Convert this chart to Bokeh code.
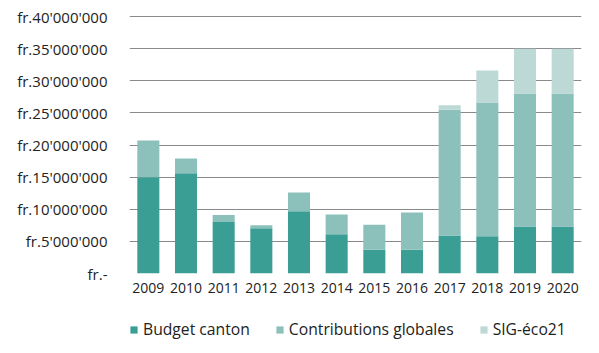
from bokeh.plotting import figure
from bokeh.layouts import column
from bokeh.models import ColumnDataSource, Legend, LegendItem, FixedTicker, Range1d
from bokeh.embed import file_html
from bokeh.resources import INLINE

years = ["2009", "2010", "2011", "2012", "2013", "2014", "2015", "2016", "2017", "2018", "2019", "2020"]
budget_canton = [15.0e6, 15.6e6, 8.0e6, 7.05e6, 9.7e6, 6.1e6, 3.7e6, 3.7e6, 5.9e6, 5.8e6, 7.3e6, 7.3e6]
contributions_globales = [5.7e6, 2.3e6, 1.1e6, 0.45e6, 2.9e6, 3.1e6, 3.9e6, 5.8e6, 19.6e6, 20.8e6, 20.7e6, 20.7e6]
sig_eco21 = [0, 0, 0, 0, 0, 0, 0, 0, 0.7e6, 5.0e6, 7.0e6, 7.0e6]

series = ["Budget canton", "Contributions globales", "SIG-éco21"]
colors = ["#3a9e95", "#8bc0bb", "#bdd9d5"]

y_ticks = [0, 5000000, 10000000, 15000000, 20000000, 25000000, 30000000, 35000000, 40000000]
y_tick_labels = ["fr.-", "fr.5'000'000", "fr.10'000'000", "fr.15'000'000", "fr.20'000'000",
                 "fr.25'000'000", "fr.30'000'000", "fr.35'000'000", "fr.40'000'000"]

FONT = "Open Sans"

source = ColumnDataSource(data={
    "year": years,
    "Budget canton": budget_canton,
    "Contributions globales": contributions_globales,
    "SIG-éco21": sig_eco21,
})

p = figure(x_range=years, y_range=Range1d(0, 40160000), width=599, height=305,
           output_backend="svg", toolbar_location=None,
           min_border_left=129, min_border_right=18, min_border_top=15, min_border_bottom=32)

renderers = p.vbar_stack(series, x="year", width=0.585, color=colors, source=source,
                         line_color=None)

p.yaxis.ticker = FixedTicker(ticks=y_ticks)
p.yaxis.major_label_overrides = {t: l for t, l in zip(y_ticks, y_tick_labels)}
p.yaxis.axis_line_color = None
p.yaxis.major_tick_line_color = None
p.yaxis.minor_tick_line_color = None
p.yaxis.major_label_standoff = 16
p.yaxis.major_label_text_font = FONT
p.yaxis.major_label_text_font_size = "15px"
p.yaxis.major_label_text_color = "#222222"

p.xaxis.axis_line_color = None
p.xaxis.major_tick_line_color = None
p.xaxis.minor_tick_line_color = None
p.xaxis.major_label_standoff = 3
p.xaxis.major_label_text_font = FONT
p.xaxis.major_label_text_font_size = "14px"
p.xaxis.major_label_text_color = "#222222"

p.xgrid.grid_line_color = None
p.ygrid.grid_line_color = "#8a8a8a"
p.ygrid.grid_line_width = 1
p.outline_line_color = None
p.background_fill_color = "white"
p.border_fill_color = "white"

# legend strip below the chart (its frame is aligned with the chart frame by the column).
# It holds the same stacked bars, kept far below its visible y range, only to feed the legend.
lf = figure(width=599, height=48, output_backend="svg", toolbar_location=None,
            x_range=years, y_range=Range1d(1000000000, 2000000000),
            x_axis_type=None, y_axis_type=None,
            min_border_left=0, min_border_right=0, min_border_top=0, min_border_bottom=0)
lf.outline_line_color = None
lf.grid.grid_line_color = None
leg_renderers = lf.vbar_stack(series, x="year", width=0.585, color=colors, source=source,
                              line_color=None)

legend = Legend(items=[LegendItem(label=s, renderers=[r]) for s, r in zip(series, leg_renderers)],
                orientation="horizontal", location=(0, 13),
                glyph_width=9, glyph_height=9, label_standoff=5, spacing=25,
                label_text_font=FONT, label_text_font_size="15.7px", label_text_color="#222222",
                border_line_color=None, background_fill_alpha=0, padding=0, margin=0)
lf.add_layout(legend)

layout = column(p, lf, spacing=0)
open("out.html", "w").write(file_html(layout, INLINE))
